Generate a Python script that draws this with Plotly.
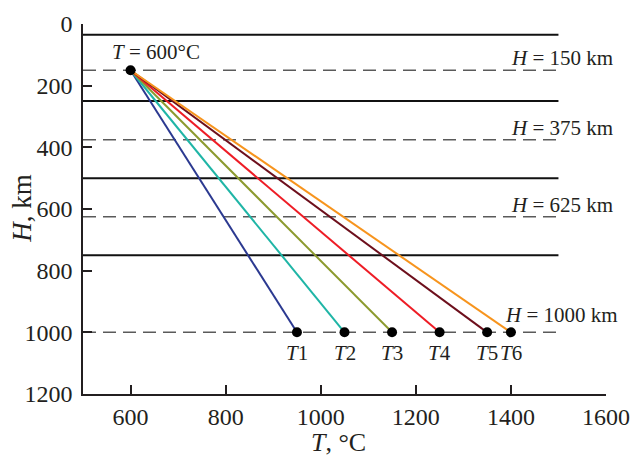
import plotly.graph_objects as go

# Temperature profiles: common top point, different bottom temperatures
t_top = 600
h_top = 150
h_bottom = 1000
t_bottom = [950, 1050, 1150, 1250, 1350, 1400]
profile_labels = ["1", "2", "3", "4", "5", "6"]
profile_colors = ["#2b3990", "#1fb5a6", "#8c9a2e", "#ee1c25", "#6d0f1c", "#f7941d"]

# Layer boundaries (solid) and reference depths (dashed)
boundary_depths = [35, 250, 500, 750]
reference_depths = [150, 375, 625, 1000]
line_t_range = [500, 1500]

x_ticks = [600, 800, 1000, 1200, 1400, 1600]
y_ticks = [0, 200, 400, 600, 800, 1000, 1200]

FONT = "Liberation Serif, Times New Roman, serif"
TXT = "#231f20"

fig = go.Figure()

for d in boundary_depths:
    fig.add_trace(go.Scatter(x=line_t_range, y=[d, d], mode="lines",
                             line=dict(color="#111111", width=2),
                             showlegend=False, hoverinfo="skip"))
for d in reference_depths:
    fig.add_trace(go.Scatter(x=line_t_range, y=[d, d], mode="lines",
                             line=dict(color="#5a5a5a", width=1.5, dash="13px,7px"),
                             showlegend=False, hoverinfo="skip"))

for tb, c in zip(t_bottom, profile_colors):
    fig.add_trace(go.Scatter(x=[t_top, tb], y=[h_top, h_bottom], mode="lines",
                             line=dict(color=c, width=2),
                             showlegend=False, hoverinfo="skip"))

# End points
fig.add_trace(go.Scatter(x=[t_top] + t_bottom, y=[h_top] + [h_bottom] * len(t_bottom),
                         mode="markers", marker=dict(color="black", size=10),
                         showlegend=False, hoverinfo="skip"))

annotations = []
annotations.append(dict(x=557, y=90, text="<i>T</i> = 600°C", showarrow=False,
                        xanchor="left", yanchor="middle"))
depth_label_pos = {150: 110, 375: 337, 625: 587, 1000: 944}
for d in reference_depths:
    annotations.append(dict(x=1507, y=depth_label_pos[d],
                            text=f"<i>H</i> = {d} km", showarrow=False,
                            xanchor="center", yanchor="middle"))
for tb, lab in zip(t_bottom, profile_labels):
    annotations.append(dict(x=tb, y=1066, text=f"<i>T</i>{lab}", showarrow=False,
                            xanchor="center", yanchor="middle"))
for a in annotations:
    a["font"] = dict(family=FONT, size=21, color=TXT)

# Axis titles
annotations.append(dict(xref="paper", yref="paper", x=0.488, y=-0.132,
                        text="<i>T</i>, °C", showarrow=False,
                        xanchor="center", yanchor="middle",
                        font=dict(family=FONT, size=26, color=TXT)))
annotations.append(dict(xref="paper", yref="paper", x=-0.117, y=0.503,
                        text="<i>H</i>, km", showarrow=False, textangle=-90,
                        xanchor="center", yanchor="middle",
                        font=dict(family=FONT, size=27, color=TXT)))

fig.update_layout(
    width=635, height=458,
    margin=dict(l=83, r=29, t=24, b=64),
    paper_bgcolor="white", plot_bgcolor="white",
    font=dict(family=FONT, size=24, color=TXT),
    annotations=annotations,
    xaxis=dict(range=[500, 1600], tickvals=x_ticks, showgrid=False, zeroline=False,
               showline=True, linecolor="#231f20", linewidth=1.5,
               ticks="inside", ticklen=9, tickwidth=1.5, tickcolor="#231f20",
               ticklabelstandoff=0, automargin=False),
    yaxis=dict(range=[1200, 0], tickvals=y_ticks, showgrid=False, zeroline=False,
               showline=True, linecolor="#231f20", linewidth=1.5,
               ticks="inside", ticklen=9, tickwidth=1.5, tickcolor="#231f20",
               ticklabelstandoff=4, automargin=False),
)

fig.write_html("out.html")
